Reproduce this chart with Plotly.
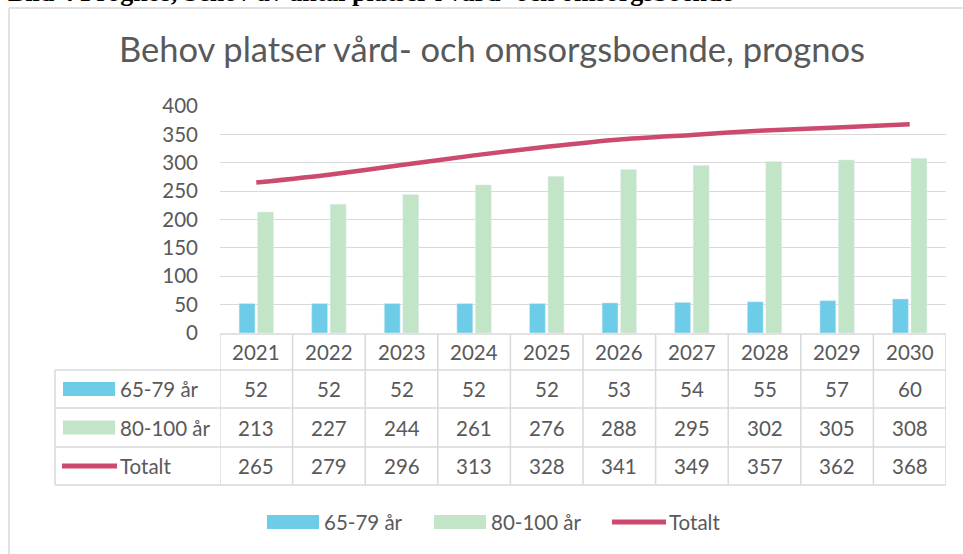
import plotly.graph_objects as go

years = ["2021", "2022", "2023", "2024", "2025", "2026", "2027", "2028", "2029", "2030"]
age_65_79 = [52, 52, 52, 52, 52, 53, 54, 55, 57, 60]
age_80_100 = [213, 227, 244, 261, 276, 288, 295, 302, 305, 308]
totalt = [265, 279, 296, 313, 328, 341, 349, 357, 362, 368]
series_names = ["65-79 år", "80-100 år", "Totalt"]
y_ticks = [0, 50, 100, 150, 200, 250, 300, 350, 400]

title_text = "Behov platser vård- och omsorgsboende, prognos"
caption_text = "Bild 4 Prognos, behov av antal platser i vård- och omsorgsboende"

W, H = 963, 554
BLUE = "#6DCDE8"
GREEN = "#C2E4C7"
RED = "#CC4A6E"
TXT = "#595959"
GRID = "#D9D9D9"
FONT = "Lato"
FS = 20.5

def px(x):
    return x / W

def py(y):
    return 1 - y / H

# plot area in pixels
PL, PR, PT, PB = 220, 946, 106, 333
# table rows (pixel y)
row_edges = [334, 370, 408, 447, 485]
row_centers = [(row_edges[i] + row_edges[i + 1]) / 2 for i in range(4)]
TABLE_LEFT = 55

fig = go.Figure()
fig.add_trace(go.Bar(x=years, y=age_65_79, name=series_names[0], marker_color=BLUE))
fig.add_trace(go.Bar(x=years, y=age_80_100, name=series_names[1], marker_color=GREEN))
fig.add_trace(go.Scatter(x=years, y=totalt, name=series_names[2], mode="lines",
                         line=dict(color=RED, width=4.5, shape="spline", smoothing=0.6)))

shapes = []
annotations = []

# chart border (top and left edges only visible)
border = dict(color=GRID, width=1.5)
shapes.append(dict(type="line", xref="paper", yref="paper", x0=px(9), x1=1, y0=py(8), y1=py(8),
                   line=border, layer="below"))
shapes.append(dict(type="line", xref="paper", yref="paper", x0=px(9), x1=px(9), y0=py(8), y1=0,
                   line=border, layer="below"))

# table grid lines
line_style = dict(color=GRID, width=1.5)
shapes.append(dict(type="line", xref="paper", yref="paper",
                   x0=px(PL), x1=px(PR), y0=py(row_edges[0]), y1=py(row_edges[0]), line=line_style))
for ye in row_edges[1:]:
    shapes.append(dict(type="line", xref="paper", yref="paper",
                       x0=px(TABLE_LEFT), x1=px(PR), y0=py(ye), y1=py(ye), line=line_style))
shapes.append(dict(type="line", xref="paper", yref="paper",
                   x0=px(TABLE_LEFT), x1=px(TABLE_LEFT), y0=py(row_edges[1]), y1=py(row_edges[-1]),
                   line=line_style))
for i in range(len(years) + 1):
    shapes.append(dict(type="line", xref="x", yref="paper",
                       x0=i - 0.5, x1=i - 0.5, y0=py(row_edges[0]), y1=py(row_edges[-1]),
                       line=line_style))

def cell(i, yc, text):
    annotations.append(dict(x=i, xref="x", y=py(yc), yref="paper", text=text,
                            xanchor="center", yanchor="middle", showarrow=False,
                            font=dict(family=FONT, size=FS, color=TXT)))

# table text
for i, yr in enumerate(years):
    cell(i, row_centers[0], yr)
for r, vals in enumerate([age_65_79, age_80_100, totalt]):
    for i in range(len(years)):
        cell(i, row_centers[r + 1], str(vals[i]))

# legend keys
def add_key(kind, color, x0, x1, yc, label, tx):
    if kind == "bar":
        shapes.append(dict(type="rect", xref="paper", yref="paper", x0=px(x0), x1=px(x1),
                           y0=py(yc + 7), y1=py(yc - 7), fillcolor=color, line=dict(width=0)))
    else:
        shapes.append(dict(type="line", xref="paper", yref="paper", x0=px(x0), x1=px(x1),
                           y0=py(yc), y1=py(yc), line=dict(color=color, width=5)))
    annotations.append(dict(x=px(tx), xref="paper", y=py(yc), yref="paper", text=label,
                            xanchor="left", yanchor="middle", showarrow=False,
                            font=dict(family=FONT, size=FS, color=TXT)))

add_key("bar", BLUE, 63, 115, row_centers[1], series_names[0], 118)
add_key("bar", GREEN, 63, 115, row_centers[2], series_names[1], 118)
add_key("line", RED, 62, 117, row_centers[3], series_names[2], 118)

# bottom legend
LEG_Y = 522
add_key("bar", BLUE, 267, 319, LEG_Y, series_names[0], 322)
add_key("bar", GREEN, 434, 486, LEG_Y, series_names[1], 489)
add_key("line", RED, 612, 666, LEG_Y, series_names[2], 667)

# clipped caption at top
annotations.append(dict(x=px(6), xref="paper", y=py(-8), yref="paper",
                        text="<b>" + caption_text + "</b>",
                        xanchor="left", yanchor="middle", showarrow=False,
                        font=dict(family="Liberation Serif", size=26, color="black")))

fig.update_layout(
    width=W, height=H,
    margin=dict(l=0, r=0, t=0, b=0, autoexpand=False),
    paper_bgcolor="white", plot_bgcolor="white",
    showlegend=False,
    barmode="group", bargap=0.49, bargroupgap=0.14,
    title=dict(text=title_text, x=492 / W, xanchor="center", y=py(50), yanchor="middle",
               font=dict(family=FONT, size=34.5, color=TXT)),
    xaxis=dict(type="category", domain=[px(PL), px(PR)], showticklabels=False, showgrid=False,
               showline=False, zeroline=False, range=[-0.5, 9.5], fixedrange=True,
               automargin=False),
    yaxis=dict(domain=[py(PB), py(PT)], range=[0, 400], tickvals=y_ticks,
               showgrid=True, gridcolor=GRID, gridwidth=1.3, zeroline=False, showline=False,
               tickfont=dict(family=FONT, size=FS, color=TXT), ticklabelstandoff=21,
               automargin=False),
    shapes=shapes,
    annotations=annotations,
)

post = (
    "document.documentElement.style.margin='0';"
    "document.documentElement.style.overflow='hidden';"
    "document.body.style.margin='0';"
    "document.body.style.overflow='hidden';"
    "var d=document.getElementById('{plot_id}');"
    "d.style.position='fixed';d.style.top='0px';d.style.left='0px';"
)
fig.write_html("out.html", config={"displayModeBar": False}, post_script=post)
